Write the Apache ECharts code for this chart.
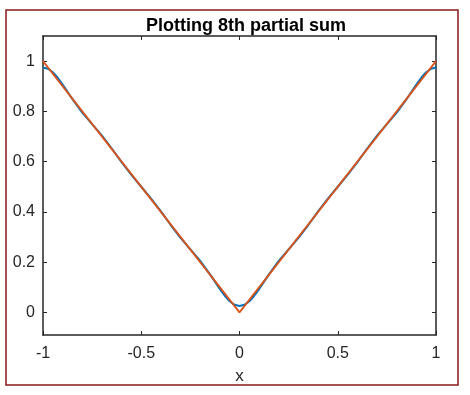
<!DOCTYPE html>
<html><head><meta charset="utf-8">
<script src="https://cdn.jsdelivr.net/npm/echarts@6/dist/echarts.min.js"></script>
<style>html,body{margin:0;padding:0;background:#fff}#c{width:470px;height:395px}</style>
</head><body><div id="c"></div>
<script>
const titleText = 'Plotting 8th partial sum';
const xName = 'x';
const xs = [-1, -0.975, -0.95, -0.925, -0.9, -0.85, -0.8, -0.75, -0.7, -0.65, -0.6, -0.55, -0.5, -0.45, -0.4, -0.35, -0.3, -0.25, -0.2, -0.15, -0.1, -0.075, -0.05, -0.025, 0,
            0.025, 0.05, 0.075, 0.1, 0.15, 0.2, 0.25, 0.3, 0.35, 0.4, 0.45, 0.5, 0.55, 0.6, 0.65, 0.7, 0.75, 0.8, 0.85, 0.9, 0.925, 0.95, 0.975, 1];
const partialSum = [0.9748, 0.9699, 0.9556, 0.9339, 0.9071, 0.8485, 0.7952, 0.7491, 0.7033, 0.6523, 0.5983, 0.5471, 0.5, 0.4529, 0.4017, 0.3477, 0.2967, 0.2509, 0.2048, 0.1515, 0.0929, 0.0661, 0.0444, 0.0301, 0.0252,
            0.0301, 0.0444, 0.0661, 0.0929, 0.1515, 0.2048, 0.2509, 0.2967, 0.3477, 0.4017, 0.4529, 0.5, 0.5471, 0.5983, 0.6523, 0.7033, 0.7491, 0.7952, 0.8485, 0.9071, 0.9339, 0.9556, 0.9699, 0.9748];
const absX = [-1, 0, 1];
const absY = [1, 0, 1];
const yTicks = [0, 0.2, 0.4, 0.6, 0.8, 1];
const xTickLabels = ['-1', '-0.5', '0', '0.5', '1'];

const axisColor = '#262626';
const chart = echarts.init(document.getElementById('c'), null, {renderer: 'canvas'});
const font = 'Liberation Sans, Arial, sans-serif';
chart.setOption({
  animation: false,
  backgroundColor: '#ffffff',
  title: {text: titleText, left: 241, top: 12, textAlign: 'center',
    textStyle: {fontFamily: font, fontSize: 18, fontWeight: 'bold', color: '#000'}},
  grid: {left: 43, right: 34, top: 36, bottom: 60},
  xAxis: [
    {type: 'value', min: -1, max: 1, interval: 0.5, position: 'bottom',
     name: xName, nameLocation: 'middle', nameGap: 33,
     nameTextStyle: {fontFamily: font, fontSize: 17, color: axisColor},
     axisLine: {show: true, onZero: false, lineStyle: {color: axisColor, width: 1.5}},
     axisTick: {show: true, inside: true, length: 4, lineStyle: {color: axisColor}},
     axisLabel: {fontFamily: font, fontSize: 16, color: axisColor, margin: 11,
       formatter: v => xTickLabels[Math.round((v + 1) / 0.5)]},
     splitLine: {show: false}},
    {type: 'value', min: -1, max: 1, interval: 0.5, position: 'top',
     axisLine: {show: true, onZero: false, lineStyle: {color: axisColor, width: 1.5}},
     axisTick: {show: true, inside: true, length: 4, lineStyle: {color: axisColor}},
     axisLabel: {show: false}, splitLine: {show: false}}
  ],
  yAxis: [
    {type: 'value', min: -0.09, max: 1.1, position: 'left',
     axisLine: {show: true, onZero: false, lineStyle: {color: axisColor, width: 1.5}},
     axisTick: {show: true, inside: true, length: 4, customValues: yTicks, lineStyle: {color: axisColor}},
     axisLabel: {fontFamily: font, fontSize: 16, color: axisColor, margin: 8, customValues: yTicks,
       formatter: v => String(Math.round(v * 10) / 10)},
     splitLine: {show: false}},
    {type: 'value', min: -0.09, max: 1.1, position: 'right',
     axisLine: {show: true, onZero: false, lineStyle: {color: axisColor, width: 1.5}},
     axisTick: {show: true, inside: true, length: 4, customValues: yTicks, lineStyle: {color: axisColor}},
     axisLabel: {show: false}, splitLine: {show: false}}
  ],
  series: [
    {type: 'line', xAxisIndex: 0, yAxisIndex: 0, data: xs.map((x, i) => [x, partialSum[i]]),
     showSymbol: false, lineStyle: {color: '#0072BD', width: 2}, itemStyle: {color: '#0072BD'}},
    {type: 'line', xAxisIndex: 0, yAxisIndex: 0, data: absX.map((x, i) => [x, absY[i]]),
     showSymbol: false, lineStyle: {color: '#D95319', width: 1.8}, itemStyle: {color: '#D95319'}}
  ],
  graphic: [
    {type: 'rect', shape: {x: 6, y: 10, width: 452, height: 375},
     style: {fill: null, stroke: '#8B1A1A', lineWidth: 1.5}, silent: true}
  ]
});
</script></body></html>
